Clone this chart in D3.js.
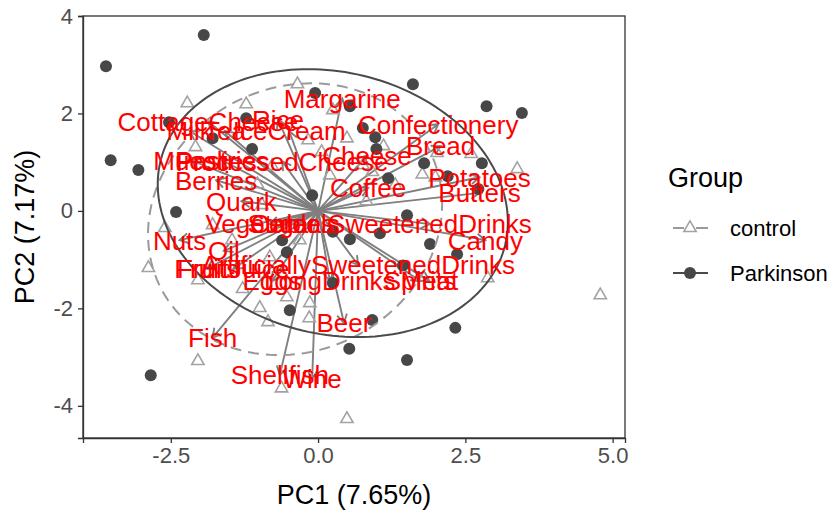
<!DOCTYPE html>
<html>
<head>
<meta charset="utf-8">
<script src="https://cdn.jsdelivr.net/npm/d3@7"></script>
<style>
  body { margin: 0; background: #ffffff; }
  svg { display: block; }
</style>
</head>
<body>
<svg id="chart" width="836" height="513"></svg>
<script>
// ---- axis ticks and titles ----
const xTicks = [-2.5, 0, 2.5, 5];
const yTicks = [-4, -2, 0, 2, 4];
const xTitle = "PC1 (7.65%)";
const yTitle = "PC2 (7.17%)";
const legendTitle = "Group";
const groups = ["control", "Parkinson"];

// ---- sample scores: control ----
const controlX = [-0.35, -2.22, -1.22, 0.25, -2.08, 0.49, -0.17, 1.11, 2.02, 2.60,
                  3.38, 1.77, 0.76, 0.92, 1.99, -2.88, -2.60, -2.04, -1.28, -0.99,
                  -0.85, -0.53, -0.14, -0.15, -2.04, -0.62, 0.49, 4.79, 2.88, -1.79,
                  -0.82, -1.03, -0.78, 0.06, 0.82, -0.31, 0.20, -0.95, 1.31, -1.46, -0.60];
const controlY = [2.60, 2.21, 2.19, 2.07, 1.31, 1.49, 1.45, 1.33, 1.19, 1.17,
                  0.86, 0.75, 0.94, 0.80, 0.69, -1.17, -0.35, -1.42, -1.60, -1.99,
                  -2.28, -1.77, -1.89, -2.20, -3.08, -3.64, -4.27, -1.73, -1.38, -0.29,
                  -0.95, 0.55, 0.92, 1.21, 0.20, -0.60, 0.73, 0.12, 0.53, -0.60, -1.32];

// ---- sample scores: Parkinson ----
const parkinsonX = [-3.60, -1.94, -3.52, -3.05, -2.41, -2.84, -2.53, -1.22, -1.79, -1.12,
                    -0.05, 0.54, 1.61, 2.86, 3.46, 0.76, 0.97, 0.99, 1.80, 2.78,
                    2.20, 1.19, 2.72, -0.10, 1.51, 0.25, 1.05, 0.54, 1.90, 2.36,
                    1.44, -0.61, -0.53, 0.25, -0.48, 0.92, 2.33, 0.53, 1.51];
const parkinsonY = [2.97, 3.61, 1.04, 0.84, -0.02, -3.37, 1.82, 1.90, 1.49, 1.27,
                    2.42, 2.15, 2.60, 2.15, 2.01, 1.70, 1.51, 1.27, 0.98, 0.98,
                    0.71, 0.67, 0.45, 0.32, -0.09, -0.43, -0.46, -0.58, -0.68, -0.89,
                    -1.12, -0.60, -0.85, -1.48, -2.04, -2.24, -2.40, -2.83, -3.06];

// ---- variable loadings (arrow tips) ----
const variables = ["Margarine", "CottageCheese", "Rice", "Milk", "Tea", "IceCream",
                   "Muesli", "Pastries", "ProcessedCheese", "Cheese", "Confectionery",
                   "Bread", "Potatoes", "Butters", "Coffee", "Berries", "Quark",
                   "Vegetables", "Sugar", "Cereals", "SweetenedDrinks", "Candy", "Nuts",
                   "Oil", "Fruits", "FruitJuice", "ArtificiallySweetenedDrinks", "Eggs",
                   "LongDrinks", "Spirits", "Meat", "Beer", "Fish", "Shellfish", "Wine"];
const loadingX = [0.41, -1.87, -0.68, -2.18, -1.58, -0.49,
                  -2.16, -1.63, -0.61, 0.83, 2.04,
                  2.08, 2.74, 2.74, 0.85, -1.73, -1.30,
                  -0.82, -0.61, -0.39, 1.90, 2.84, -2.35,
                  -1.60, -1.89, -1.44, 0.68, -0.78,
                  0.20, 1.73, 1.89, 0.44, -1.79, -0.65, -0.10];
const loadingY = [2.31, 1.84, 1.88, 1.64, 1.64, 1.64,
                  1.04, 1.04, 1.02, 1.14, 1.78,
                  1.33, 0.69, 0.37, 0.47, 0.63, 0.20,
                  -0.27, -0.27, -0.27, -0.27, -0.60, -0.60,
                  -0.82, -1.19, -1.19, -1.11, -1.44,
                  -1.44, -1.44, -1.44, -2.30, -2.60, -3.37, -3.45];

// ---- group ellipses: centre and covariance (xx, yy, xy) ----
const ellipseCx = [-0.39, 0.25];
const ellipseCy = [-0.17, 0.16];
const ellipseSxx = [6.23, 8.83];
const ellipseSyy = [7.78, 7.56];
const ellipseSxy = [0.77, -1.15];

// ---- layout ----
const svg = d3.select("#chart");
const panel = { left: 83, right: 625, top: 16, bottom: 438 };
const x = d3.scaleLinear().domain([-3.99, 5.21]).range([panel.left, panel.right]);
const y = d3.scaleLinear().domain([-4.66, 4.0]).range([panel.bottom, panel.top]);
const font = "'Liberation Sans', Arial, Helvetica, sans-serif";

const clipId = "panel-clip";
svg.append("defs").append("clipPath").attr("id", clipId)
  .append("rect")
  .attr("x", panel.left).attr("y", panel.top)
  .attr("width", panel.right - panel.left).attr("height", panel.bottom - panel.top);

const plot = svg.append("g").attr("clip-path", `url(#${clipId})`);

// arrows from the origin to each loading
const x0 = x(0), y0 = y(0);
const arrows = plot.append("g").attr("class", "arrows");
variables.forEach((name, i) => {
  const tx = x(loadingX[i]), ty = y(loadingY[i]);
  const ang = Math.atan2(ty - y0, tx - x0);
  const head = 10, spread = Math.PI / 6;
  const a1x = tx - head * Math.cos(ang - spread), a1y = ty - head * Math.sin(ang - spread);
  const a2x = tx - head * Math.cos(ang + spread), a2y = ty - head * Math.sin(ang + spread);
  arrows.append("path")
    .attr("d", `M${x0},${y0}L${tx},${ty}M${a1x},${a1y}L${tx},${ty}L${a2x},${a2y}`)
    .attr("fill", "none")
    .attr("stroke", "#7f7f7f")
    .attr("stroke-width", 1.9)
    .attr("stroke-linecap", "butt");
});

// control points (open triangles)
const tri = d3.symbol().type(d3.symbolTriangle).size(66);
plot.append("g").selectAll("path")
  .data(d3.range(controlX.length))
  .join("path")
  .attr("d", tri)
  .attr("transform", i => `translate(${x(controlX[i])},${y(controlY[i])})`)
  .attr("fill", "none")
  .attr("stroke", "#a3a3a3")
  .attr("stroke-width", 1.6);

// Parkinson points (filled circles)
plot.append("g").selectAll("circle")
  .data(d3.range(parkinsonX.length))
  .join("circle")
  .attr("cx", i => x(parkinsonX[i]))
  .attr("cy", i => y(parkinsonY[i]))
  .attr("r", 6)
  .attr("fill", "#474747");

// group ellipses
const ellStyles = [
  { stroke: "#9a9a9a", dash: "11,7" },
  { stroke: "#4a4a4a", dash: null }
];
groups.forEach((g, k) => {
  const l11 = Math.sqrt(ellipseSxx[k]);
  const l21 = ellipseSxy[k] / l11;
  const l22 = Math.sqrt(ellipseSyy[k] - l21 * l21);
  const pts = d3.range(0, 361, 2).map(deg => {
    const t = deg * Math.PI / 180;
    return [x(ellipseCx[k] + l11 * Math.cos(t)),
            y(ellipseCy[k] + l21 * Math.cos(t) + l22 * Math.sin(t))];
  });
  plot.append("path")
    .attr("d", d3.line()(pts) + "Z")
    .attr("fill", "none")
    .attr("stroke", ellStyles[k].stroke)
    .attr("stroke-width", 2)
    .attr("stroke-dasharray", ellStyles[k].dash);
});

// variable labels
plot.append("g").selectAll("text")
  .data(variables)
  .join("text")
  .attr("x", (d, i) => x(loadingX[i]))
  .attr("y", (d, i) => y(loadingY[i]))
  .attr("dy", "0.36em")
  .attr("text-anchor", "middle")
  .attr("font-family", font)
  .attr("font-size", 26)
  .attr("fill", "#ff0000")
  .text(d => d);

// panel border
svg.append("rect")
  .attr("x", panel.left).attr("y", panel.top)
  .attr("width", panel.right - panel.left).attr("height", panel.bottom - panel.top)
  .attr("fill", "none").attr("stroke", "#333333").attr("stroke-width", 1.3);

// axes
const xAxis = svg.append("g")
  .attr("transform", `translate(0,${panel.bottom})`)
  .call(d3.axisBottom(x).tickValues(xTicks).tickSize(5).tickPadding(4)
    .tickFormat(d => d.toFixed(1)));
const yAxis = svg.append("g")
  .attr("transform", `translate(${panel.left},0)`)
  .call(d3.axisLeft(y).tickValues(yTicks).tickSize(5).tickPadding(5)
    .tickFormat(d => String(d)));
[xAxis, yAxis].forEach(ax => {
  ax.select(".domain").attr("stroke", "#333333").attr("stroke-width", 1.3);
  ax.selectAll(".tick line").attr("stroke", "#333333").attr("stroke-width", 1.3);
  ax.selectAll(".tick text")
    .attr("font-family", font).attr("font-size", 22).attr("fill", "#4d4d4d");
});

// axis titles
svg.append("text")
  .attr("x", (panel.left + panel.right) / 2)
  .attr("y", 494).attr("dy", "0.36em")
  .attr("text-anchor", "middle")
  .attr("font-family", font).attr("font-size", 27).attr("fill", "#000")
  .text(xTitle);
svg.append("text")
  .attr("transform", `translate(24,${(panel.top + panel.bottom) / 2}) rotate(-90)`)
  .attr("dy", "0.36em")
  .attr("text-anchor", "middle")
  .attr("font-family", font).attr("font-size", 27).attr("fill", "#000")
  .text(yTitle);

// legend
const legend = svg.append("g");
legend.append("text")
  .attr("x", 668).attr("y", 177).attr("dy", "0.36em")
  .attr("font-family", font).attr("font-size", 27).attr("fill", "#000")
  .text(legendTitle);
const rowY = [228, 273];
groups.forEach((g, k) => {
  const cy = rowY[k];
  legend.append("line")
    .attr("x1", 673).attr("x2", 708).attr("y1", cy).attr("y2", cy)
    .attr("stroke", ellStyles[k].stroke).attr("stroke-width", 2);
  if (k === 0) {
    legend.append("rect").attr("x", 684).attr("y", cy - 7).attr("width", 12).attr("height", 12)
      .attr("fill", "#ffffff");
    legend.append("path").attr("d", tri)
      .attr("transform", `translate(690,${cy})`)
      .attr("fill", "none").attr("stroke", "#a3a3a3").attr("stroke-width", 1.6);
  } else {
    legend.append("circle").attr("cx", 690).attr("cy", cy).attr("r", 6).attr("fill", "#474747");
  }
  legend.append("text")
    .attr("x", 730).attr("y", cy).attr("dy", "0.36em")
    .attr("font-family", font).attr("font-size", 22).attr("fill", "#000")
    .text(g);
});
</script>
</body>
</html>
